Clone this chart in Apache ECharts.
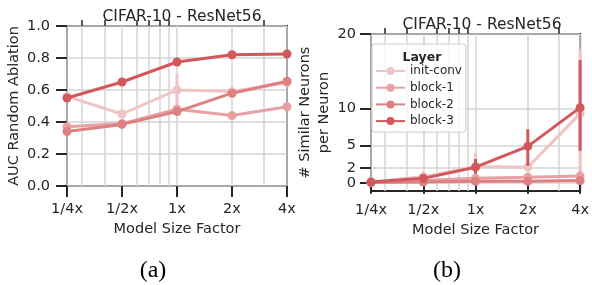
<!DOCTYPE html>
<html>
<head>
<meta charset="utf-8">
<script src="https://cdn.jsdelivr.net/npm/echarts@6/dist/echarts.min.js"></script>
<style>
  html, body { margin: 0; padding: 0; background: #fff; }
  #chart { width: 592px; height: 285px; }
</style>
</head>
<body>
<div id="chart"></div>
<script>
// model size factors (x axis, log2)
const sizes = [0.25, 0.5, 1, 2, 4]
const sizeLabels = ['1/4x', '1/2x', '1x', '2x', '4x']
const minorSizes = [0.3, 0.4, 0.6, 0.7, 0.8, 0.9, 3]
const layers = ['init-conv', 'block-1', 'block-2', 'block-3']
const colors = ['#f0c3c4', '#e8a1a2', '#de8082', '#d2585b']

// (a) AUC random ablation
const aucInit = [0.56, 0.45, 0.60, 0.59, 0.645]
const aucInitLo = [0.54, 0.43, 0.50, 0.57, 0.63]
const aucInitHi = [0.58, 0.47, 0.70, 0.61, 0.66]
const aucB1 = [0.37, 0.39, 0.48, 0.44, 0.495]
const aucB1Lo = [0.36, 0.38, 0.47, 0.43, 0.47]
const aucB1Hi = [0.38, 0.40, 0.49, 0.45, 0.52]
const aucB2 = [0.34, 0.385, 0.465, 0.58, 0.655]
const aucB2Lo = [0.33, 0.37, 0.45, 0.56, 0.64]
const aucB2Hi = [0.35, 0.40, 0.48, 0.60, 0.67]
const aucB3 = [0.55, 0.65, 0.775, 0.82, 0.825]
const aucB3Lo = [0.54, 0.64, 0.765, 0.81, 0.815]
const aucB3Hi = [0.56, 0.66, 0.785, 0.83, 0.835]

// (b) similar neurons per neuron
const simInit = [0.1, 0.8, 2.2, 2.1, 9.3]
const simInitLo = [0.0, 0.4, 1.5, 1.8, 1.0]
const simInitHi = [0.2, 1.5, 4.0, 2.4, 18.0]
const simB1 = [0.05, 0.3, 0.6, 0.75, 0.9]
const simB1Lo = [0.0, 0.2, 0.4, 0.6, 0.3]
const simB1Hi = [0.1, 0.4, 0.8, 0.9, 1.6]
const simB2 = [0.05, 0.1, 0.2, 0.2, 0.3]
const simB2Lo = [0.0, 0.05, 0.1, 0.1, 0.1]
const simB2Hi = [0.1, 0.15, 0.3, 0.3, 0.5]
const simB3 = [0.1, 0.6, 2.1, 4.9, 10.1]
const simB3Lo = [0.0, 0.4, 1.2, 2.3, 4.3]
const simB3Hi = [0.2, 0.8, 3.2, 7.2, 16.5]
const simTicks = [0, 2, 5, 10, 20]

const aucVals = [aucInit, aucB1, aucB2, aucB3]
const aucLo = [aucInitLo, aucB1Lo, aucB2Lo, aucB3Lo]
const aucHi = [aucInitHi, aucB1Hi, aucB2Hi, aucB3Hi]
const simVals = [simInit, simB1, simB2, simB3]
const simLo = [simInitLo, simB1Lo, simB2Lo, simB3Lo]
const simHi = [simInitHi, simB1Hi, simB2Hi, simB3Hi]

const FONT = 'DejaVu Sans'
const DARK = '#262626'
const GRIDC = '#d4d4d4'

function xAxes(gridIndex, labelMargin, nameGap) {
    return [{
        type: 'log', logBase: 2, gridIndex, min: 0.25, max: 4,
        name: 'Model Size Factor', nameLocation: 'middle', nameGap,
        nameTextStyle: { fontFamily: FONT, fontSize: 14.5, color: DARK },
        axisLine: { show: false },
        axisTick: { show: true, length: 11, lineStyle: { color: DARK, width: 2 }, customValues: sizes },
        axisLabel: {
            fontFamily: FONT, fontSize: 14.5, color: DARK, margin: labelMargin, customValues: sizes,
            formatter: v => sizeLabels[sizes.findIndex(s => Math.abs(s - v) < 1e-6)]
        },
        splitLine: { show: true, lineStyle: { color: GRIDC, width: 1.5 }, customValues: sizes },
        minorTick: { show: false }
    }, {
        type: 'log', logBase: 2, gridIndex, min: 0.25, max: 4,
        axisLine: { show: false },
        axisTick: { show: true, length: 6, lineStyle: { color: DARK, width: 1.5 }, customValues: minorSizes },
        axisLabel: { show: false, customValues: minorSizes },
        splitLine: { show: true, lineStyle: { color: GRIDC, width: 1.5 }, customValues: minorSizes }
    }]
}

function panelSeries(vals, lo, hi, xIdx, yIdx) {
    const out = []
    layers.forEach((name, i) => {
        out.push({
            name: name + ' err',
            type: 'custom',
            xAxisIndex: xIdx, yAxisIndex: yIdx,
            z: 2 + i,
            silent: true,
            data: sizes.map((s, k) => [s, lo[i][k], hi[i][k]]),
            encode: { x: 0, y: [1, 2] },
            renderItem: (params, api) => {
                const p1 = api.coord([api.value(0), api.value(1)])
                const p2 = api.coord([api.value(0), api.value(2)])
                return {
                    type: 'line',
                    shape: { x1: p1[0], y1: p1[1], x2: p2[0], y2: p2[1] },
                    style: { stroke: colors[i], lineWidth: 3 }
                }
            }
        })
        out.push({
            name,
            type: 'line',
            xAxisIndex: xIdx, yAxisIndex: yIdx,
            z: 2 + i,
            data: sizes.map((s, k) => [s, vals[i][k]]),
            symbol: 'circle',
            symbolSize: 9,
            lineStyle: { width: 3, color: colors[i] },
            itemStyle: { color: colors[i] },
            emphasis: { disabled: true }
        })
    })
    return out
}

const myChart = echarts.init(document.querySelector('#chart'), null, { renderer: 'canvas' })
const option = {
    animation: false,
    textStyle: { fontFamily: FONT },
    grid: [
        { left: 67, right: 305, top: 26, bottom: 99, show: true, borderColor: DARK, borderWidth: 2, backgroundColor: 'transparent' },
        { left: 371, right: 10, top: 34, bottom: 94, show: true, borderColor: DARK, borderWidth: 2, backgroundColor: 'transparent' }
    ],
    title: [
        { text: 'CIFAR-10 - ResNet56', left: 177, top: 4, textAlign: 'center',
          textStyle: { fontFamily: FONT, fontSize: 15.5, fontWeight: 'normal', color: DARK } },
        { text: 'CIFAR-10 - ResNet56', left: 477, top: 12, textAlign: 'center',
          textStyle: { fontFamily: FONT, fontSize: 15.5, fontWeight: 'normal', color: DARK } },
        { text: '(a)', left: 148, top: 254, textAlign: 'center',
          textStyle: { fontFamily: 'Liberation Serif', fontSize: 24, fontWeight: 'normal', color: '#000' } },
        { text: '(b)', left: 442, top: 254, textAlign: 'center',
          textStyle: { fontFamily: 'Liberation Serif', fontSize: 24, fontWeight: 'normal', color: '#000' } },
        { text: 'Layer', left: 417, top: 46, textAlign: 'center',
          textStyle: { fontFamily: FONT, fontSize: 12.5, fontWeight: 'bold', color: DARK } }
    ],
    legend: {
        data: layers,
        orient: 'vertical',
        left: 372, top: 44,
        padding: [21, 4, 5, 3],
        itemGap: 4.7,
        itemWidth: 29,
        itemHeight: 10,
        backgroundColor: 'rgba(255,255,255,0.8)',
        borderColor: '#cccccc',
        borderWidth: 1,
        borderRadius: 3,
        selectedMode: false,
        textStyle: { fontFamily: FONT, fontSize: 12, color: DARK }
    },
    xAxis: [...xAxes(0, 16, 31), ...xAxes(1, 12, 28)],
    yAxis: [{
        type: 'value', gridIndex: 0, min: 0, max: 1, interval: 0.2,
        name: 'AUC Random Ablation', nameLocation: 'middle', nameGap: 45,
        nameTextStyle: { fontFamily: FONT, fontSize: 14.5, color: DARK },
        axisLine: { show: false },
        axisTick: { show: true, length: 11, lineStyle: { color: DARK, width: 2 } },
        axisLabel: { fontFamily: FONT, fontSize: 14.5, color: DARK, margin: 17, formatter: v => v.toFixed(1) },
        splitLine: { show: true, lineStyle: { color: GRIDC, width: 1.5 } }
    }, {
        type: 'value', gridIndex: 1, min: -1.1, max: 20,
        name: '# Similar Neurons\nper Neuron', nameLocation: 'middle', nameGap: 29,
        nameTextStyle: { fontFamily: FONT, fontSize: 14.5, color: DARK, lineHeight: 19 },
        axisLine: { show: false },
        axisTick: { show: true, length: 11, lineStyle: { color: DARK, width: 2 }, customValues: simTicks },
        axisLabel: { fontFamily: FONT, fontSize: 14.5, color: DARK, margin: 15, customValues: simTicks },
        splitLine: { show: true, lineStyle: { color: GRIDC, width: 1.5 }, customValues: simTicks }
    }],
    series: [
        ...panelSeries(aucVals, aucLo, aucHi, 0, 0),
        ...panelSeries(simVals, simLo, simHi, 2, 1)
    ]
}
myChart.setOption(option)
</script>
</body>
</html>
